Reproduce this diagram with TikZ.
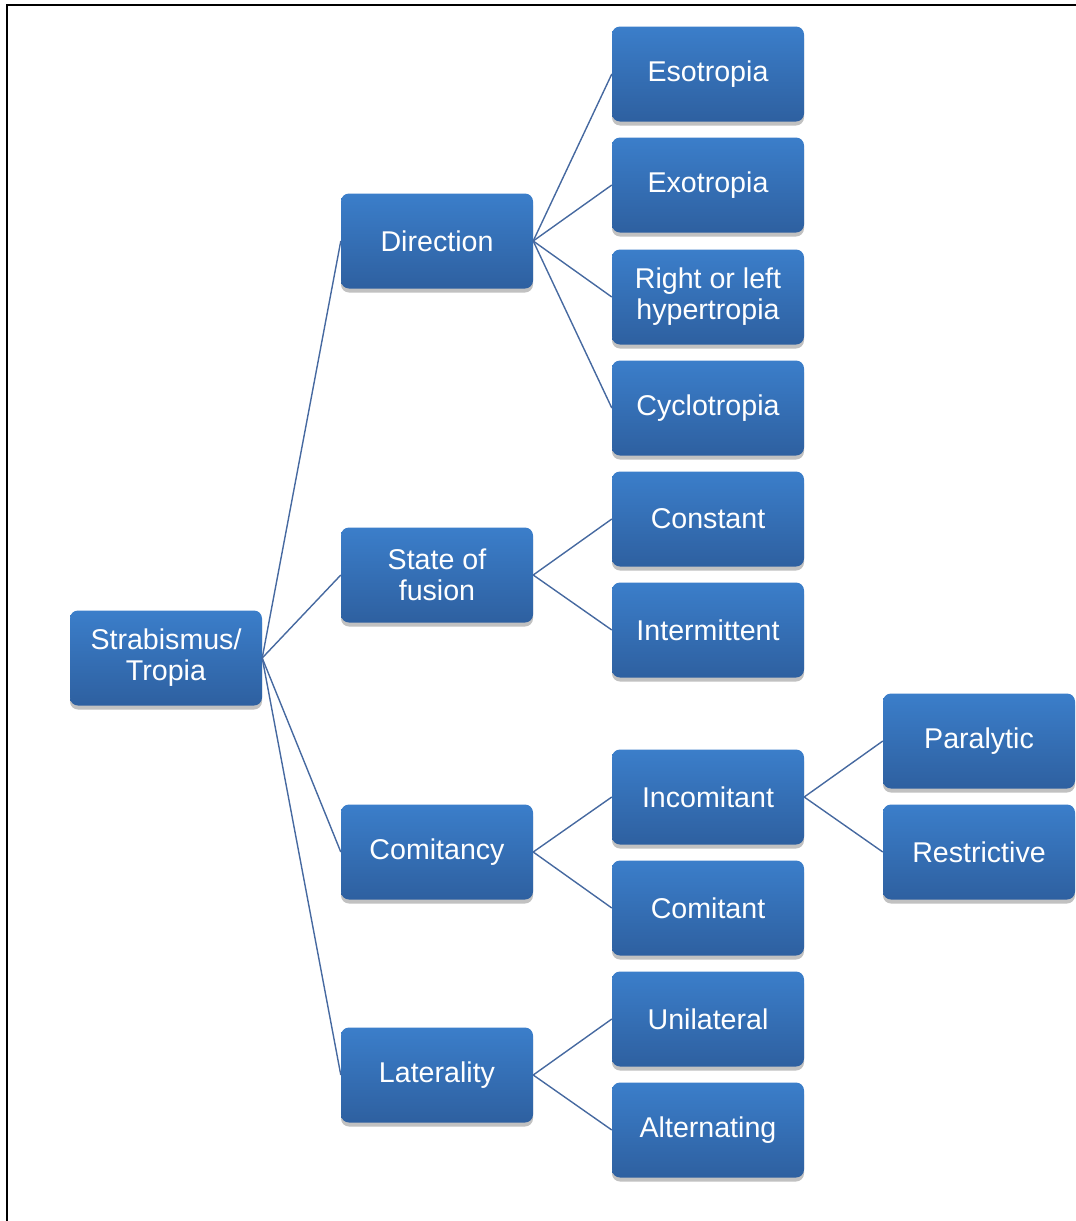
\documentclass[tikz,border=0pt]{standalone}
\usepackage{fontspec}
\setmainfont{Liberation Sans}
\usetikzlibrary{shadows}
\definecolor{boxtop}{RGB}{59,126,202}
\definecolor{boxbot}{RGB}{46,96,160}
\definecolor{linkc}{RGB}{70,105,160}
\tikzset{
  cbox/.style={rounded corners=8pt, minimum width=192pt, minimum height=95pt,
    top color=boxtop, bottom color=boxbot, draw=none, text=white, align=center,
    font=\fontsize{28.6}{31}\selectfont, inner sep=0pt,
    drop shadow={shadow xshift=0pt, shadow yshift=-4pt, opacity=0.35, fill=black!70}},
  link/.style={draw=linkc, line width=1.4pt}
}
\begin{document}
\begin{tikzpicture}[x=1pt,y=-1pt]
\useasboundingbox (0,0) rectangle (1076,1221);
\draw[line width=2pt] (7,1221) -- (7,5) -- (1076,5);
\node[cbox] (root) at (166,658) {Strabismus/\\Tropia};
\node[cbox] (dir) at (437,241) {Direction};
\node[cbox] (fus) at (437,575) {State of\\fusion};
\node[cbox] (com) at (437,852) {Comitancy};
\node[cbox] (lat) at (437,1075) {Laterality};
\node[cbox] (eso) at (708,74) {Esotropia};
\node[cbox] (exo) at (708,185) {Exotropia};
\node[cbox] (hyp) at (708,297) {Right or left\\hypertropia};
\node[cbox] (cyc) at (708,408) {Cyclotropia};
\node[cbox] (con) at (708,519) {Constant};
\node[cbox] (int) at (708,630) {Intermittent};
\node[cbox] (inc) at (708,797) {Incomitant};
\node[cbox] (cmt) at (708,908) {Comitant};
\node[cbox] (uni) at (708,1019) {Unilateral};
\node[cbox] (alt) at (708,1130) {Alternating};
\node[cbox] (par) at (979,741) {Paralytic};
\node[cbox] (res) at (979,852) {Restrictive};
\foreach \c in {dir,fus,com,lat} \draw[link] (root.east) -- (\c.west);
\foreach \c in {eso,exo,hyp,cyc} \draw[link] (dir.east) -- (\c.west);
\foreach \c in {con,int} \draw[link] (fus.east) -- (\c.west);
\foreach \c in {inc,cmt} \draw[link] (com.east) -- (\c.west);
\foreach \c in {uni,alt} \draw[link] (lat.east) -- (\c.west);
\foreach \c in {par,res} \draw[link] (inc.east) -- (\c.west);
\end{tikzpicture}
\end{document}
